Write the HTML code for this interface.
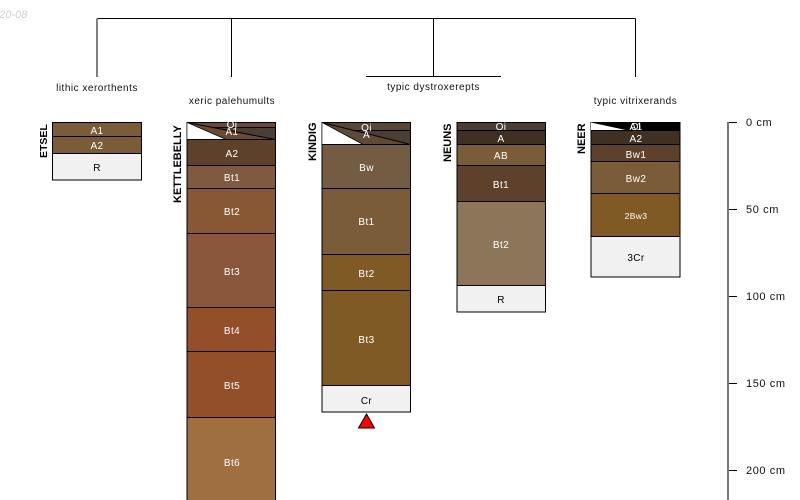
<!DOCTYPE html>
<html><head><meta charset="utf-8"><style>
html,body{margin:0;padding:0;background:#fff}
svg{display:block}
text{font-family:"Liberation Sans",sans-serif;font-size:10px}
.h{text-anchor:middle;fill:#fff;letter-spacing:.4px}
.d{text-anchor:middle;fill:#000;letter-spacing:.4px}
.r{stroke:#000;stroke-width:1}
.n{font-weight:bold;font-size:11px;text-anchor:start}
.t{text-anchor:middle;fill:#111;font-size:10px;letter-spacing:.5px}
.a{fill:#111;font-size:11px;letter-spacing:.6px}
</style></head><body>
<svg width="800" height="500" viewBox="0 0 800 500" xmlns="http://www.w3.org/2000/svg">
<text x="-13" y="18" font-style="italic" style="font-size:11px" fill="#cfcfcf">2020-08</text>

<g fill="none" stroke="#000" stroke-width="1">
<path d="M97.5 18.500H635.5M231.500 18.500V77M433.500 18.500V77M635.500 18.500V77M366 76.500H501"/>
<path d="M97 18.500V77" stroke="#555" stroke-width="1.500"/>
</g>
<text class="t" x="97" y="91">lithic xerorthents</text>
<text class="t" x="232" y="104">xeric palehumults</text>
<text class="t" x="433.500" y="90">typic dystroxerepts</text>
<text class="t" x="635.500" y="104">typic vitrixerands</text>

<!-- ETSEL -->
<text class="n" style="font-size:10.500px" transform="translate(47,158) rotate(-90)">ETSEL</text>
<rect class="r" x="52.500" y="122.500" width="89" height="14" fill="#7a5c38"/>
<rect class="r" x="52.500" y="136.500" width="89" height="17" fill="#7a5c38"/>
<rect class="r" x="52.500" y="153.500" width="89" height="26.500" fill="#f1f1f1"/>
<text class="h" x="97" y="134">A1</text>
<text class="h" x="97" y="149">A2</text>
<text class="d" x="97" y="171">R</text>

<!-- KETTLEBELLY -->
<text class="n" transform="translate(181,203) rotate(-90)">KETTLEBELLY</text>
<rect class="r" x="187" y="122.500" width="88.500" height="5" fill="#6b4a2f"/>
<rect class="r" x="187" y="127.500" width="88.500" height="12" fill="#4a3f35"/>
<polygon points="187,122.500 275.500,139.500 226,139.500" fill="#6b4a2f" stroke="#000"/>
<polygon points="187,122.500 226,139.500 187,139.500" fill="#fff" stroke="#000" stroke-width=".6"/>
<rect class="r" x="187" y="139.500" width="88.500" height="26" fill="#5e412a"/>
<rect class="r" x="187" y="165.500" width="88.500" height="23" fill="#7f5a40"/>
<rect class="r" x="187" y="188.500" width="88.500" height="45" fill="#875833"/>
<rect class="r" x="187" y="233.500" width="88.500" height="74" fill="#8a563c"/>
<rect class="r" x="187" y="307.500" width="88.500" height="44" fill="#934e2a"/>
<rect class="r" x="187" y="351.500" width="88.500" height="66" fill="#934e2a"/>
<rect class="r" x="187" y="417.500" width="88.500" height="90" fill="#a06f40"/>
<text class="h" x="232" y="128">Oi</text>
<text class="h" x="232" y="135">A1</text>
<text class="h" x="232" y="157">A2</text>
<text class="h" x="232" y="181">Bt1</text>
<text class="h" x="232" y="215">Bt2</text>
<text class="h" x="232" y="275">Bt3</text>
<text class="h" x="232" y="334">Bt4</text>
<text class="h" x="232" y="389">Bt5</text>
<text class="h" x="232" y="466">Bt6</text>

<!-- KINDIG -->
<text class="n" transform="translate(316,161) rotate(-90)">KINDIG</text>
<rect class="r" x="322" y="122.500" width="88.500" height="8" fill="#5a4632"/>
<rect class="r" x="322" y="130.500" width="88.500" height="14" fill="#4a3f35"/>
<polygon points="322,122.500 410.500,144.500 363,144.500" fill="#5f4a36" stroke="#000"/>
<polygon points="322,122.500 363,144.500 322,144.500" fill="#fff" stroke="#000" stroke-width=".6"/>
<rect class="r" x="322" y="144.500" width="88.500" height="44" fill="#745c42"/>
<rect class="r" x="322" y="188.500" width="88.500" height="66" fill="#7a5c38"/>
<rect class="r" x="322" y="254.500" width="88.500" height="36" fill="#7f5a24"/>
<rect class="r" x="322" y="290.500" width="88.500" height="95" fill="#7f5a24"/>
<rect class="r" x="322" y="385.500" width="88.500" height="26.500" fill="#f1f1f1"/>
<text class="h" x="366.500" y="131">Oi</text>
<text class="h" x="366.500" y="138">A</text>
<text class="h" x="366.500" y="171">Bw</text>
<text class="h" x="366.500" y="225">Bt1</text>
<text class="h" x="366.500" y="277">Bt2</text>
<text class="h" x="366.500" y="343">Bt3</text>
<text class="d" x="366.500" y="404">Cr</text>
<polygon points="366.500,414 358.500,428 374.500,428" fill="#f00" stroke="#000"/>

<!-- NEUNS -->
<text class="n" transform="translate(451,162) rotate(-90)">NEUNS</text>
<rect class="r" x="457" y="122.500" width="88.500" height="8" fill="#4a3f35"/>
<rect class="r" x="457" y="130.500" width="88.500" height="14" fill="#3f3023"/>
<rect class="r" x="457" y="144.500" width="88.500" height="21" fill="#7a5c38"/>
<rect class="r" x="457" y="165.500" width="88.500" height="36" fill="#5e412a"/>
<rect class="r" x="457" y="201.500" width="88.500" height="84" fill="#8c7558"/>
<rect class="r" x="457" y="285.500" width="88.500" height="26.500" fill="#f1f1f1"/>
<text class="h" x="501" y="130">Oi</text>
<text class="h" x="501" y="142">A</text>
<text class="h" x="501" y="159">AB</text>
<text class="h" x="501" y="188">Bt1</text>
<text class="h" x="501" y="248">Bt2</text>
<text class="d" x="501" y="303">R</text>

<!-- NEER -->
<text class="n" transform="translate(585,154) rotate(-90)">NEER</text>
<rect x="591" y="122.500" width="89" height="8" fill="#000" stroke="#000"/>
<polygon points="591,122.500 628,130.500 591,130.500" fill="#fff"/>
<rect class="r" x="591" y="130.500" width="89" height="14" fill="#3f3023"/>
<rect class="r" x="591" y="144.500" width="89" height="17" fill="#5e412a"/>
<rect class="r" x="591" y="161.500" width="89" height="32" fill="#7a5c38"/>
<rect class="r" x="591" y="193.500" width="89" height="43" fill="#7f5a24"/>
<rect class="r" x="591" y="236.500" width="89" height="40.500" fill="#f1f1f1"/>
<text class="h" x="636" y="130">Oi</text>
<text class="h" x="636" y="130">A1</text>
<text class="h" x="636" y="142">A2</text>
<text class="h" x="636" y="158">Bw1</text>
<text class="h" x="636" y="182">Bw2</text>
<text class="h" x="636" y="219" style="font-size:8.500px">2Bw3</text>
<text class="d" x="636" y="261">3Cr</text>

<!-- depth axis -->
<path d="M728 122V500" stroke="#777" stroke-width="2" fill="none"/>
<path d="M729 122.500H737M729 209.500H737M729 296.500H737M729 383.500H737M729 470.500H737" stroke="#000" fill="none"/>
<text class="a" x="746" y="126">0 cm</text>
<text class="a" x="746" y="213">50 cm</text>
<text class="a" x="746" y="300">100 cm</text>
<text class="a" x="746" y="387">150 cm</text>
<text class="a" x="746" y="474">200 cm</text>
</svg>
</body></html>
